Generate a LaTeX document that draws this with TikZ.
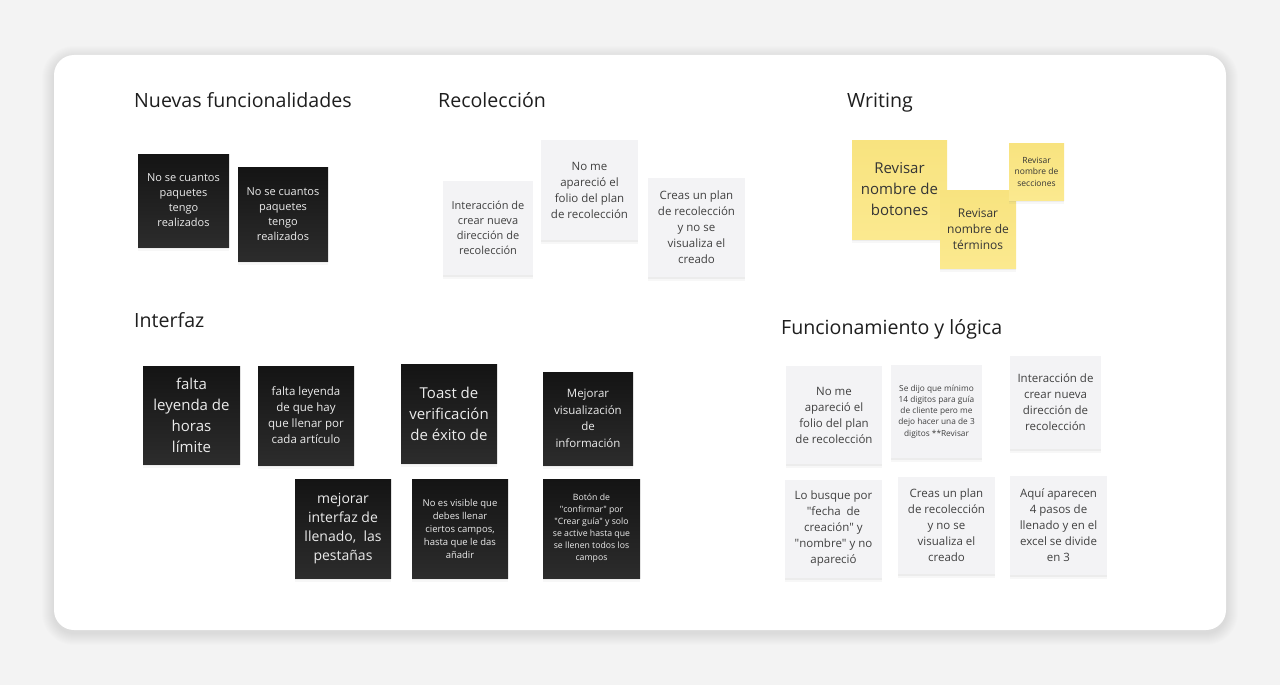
\documentclass[tikz,border=0pt]{standalone}
\usepackage{fontspec}
\setmainfont{Open Sans}
\usetikzlibrary{shadows}

\definecolor{paper}{HTML}{F3F3F3}
\definecolor{ink}{HTML}{1E1E1E}
\definecolor{darktop}{HTML}{141414}
\definecolor{darkbot}{HTML}{2C2C2C}
\definecolor{lightnote}{HTML}{F3F3F5}
\definecolor{yellownote}{HTML}{F8E37F}
\definecolor{yellowbot}{HTML}{FBE98F}

\begin{document}
\begin{tikzpicture}[x=1pt,y=-1pt,
  wh/.style 2 args={minimum width=#1,minimum height=#2},
  note/.style={inner sep=0pt,align=center,
    drop shadow={shadow xshift=0pt,shadow yshift=-4pt,opacity=.06},
    drop shadow={shadow xshift=0pt,shadow yshift=-2pt,opacity=.09}},
  dark note/.style={note,top color=darktop,bottom color=darkbot,text=white!92!black,
    font=\fontsize{11}{15}\selectfont},
  light note/.style={note,fill=lightnote,text=ink!85,font=\fontsize{11.5}{16}\selectfont},
  yellow note/.style={note,top color=yellownote,bottom color=yellowbot,text=ink!90,
    font=\fontsize{12}{16}\selectfont},
  big text/.style={font=\fontsize{15}{21}\selectfont},
  small text/.style={font=\fontsize{9.5}{13}\selectfont},
  tiny text/.style={font=\fontsize{8.5}{11.5}\selectfont},
  group title/.style={anchor=base west,inner sep=0pt,text=ink,font=\fontsize{19.6}{24}\selectfont}]

  \useasboundingbox (0,0) rectangle (1280,685);
  \fill[paper] (0,0) rectangle (1280,685);
  % soft shadow of the board
  \foreach \s in {1,...,12}
    \fill[black,opacity=.007,rounded corners=20+\s] (54-\s,58-\s) rectangle (1226+\s,633+\s);
  \fill[white,rounded corners=20] (54,55) rectangle (1226,630);

  % group titles
  \node[group title] (tnuevas) at (134,107) {Nuevas funcionalidades};
  \node[group title] (treco) at (438,107) {Recolección};
  \node[group title] (twriting) at (847,107) {Writing};
  \node[group title] (tinterfaz) at (134,327) {Interfaz};
  \node[group title] (tfunc) at (781,334) {Funcionamiento y lógica};

  % Nuevas funcionalidades
  \node[dark note, wh={91}{93}] (n1) at (183.5,200.5) {No se cuantos\\paquetes\\tengo\\realizados};
  \node[dark note, wh={90}{94}] (n2) at (283,214) {No se cuantos\\paquetes\\tengo\\realizados};

  % Recoleccion
  \node[light note, wh={90}{94}, font=\fontsize{11}{15}\selectfont] (r1) at (488,228) {Interacción de\\crear nueva\\dirección de\\recolección};
  \node[light note, wh={97}{100}] (r2) at (589.5,190) {No me\\apareció el\\folio del plan\\de recolección};
  \node[light note, wh={97}{99}] (r3) at (696.5,227.5) {Creas un plan\\de recolección\\y no se\\visualiza el\\creado};

  % Writing
  \node[yellow note, wh={95}{99}, big text] (w1) at (899.5,189.5) {Revisar\\nombre de\\botones};
  \node[yellow note, wh={76}{78}] (w2) at (978,229) {Revisar\\nombre de\\términos};
  \node[yellow note, wh={55}{57}, tiny text] (w3) at (1036.5,171.5) {Revisar\\nombre de\\secciones};

  % Interfaz
  \node[dark note, wh={97}{98}, big text] (i1) at (191.5,415) {falta\\leyenda de\\horas\\límite};
  \node[dark note, wh={96}{99}, font=\fontsize{11.5}{16}\selectfont] (i2) at (306,415.5) {falta leyenda\\de que hay\\que llenar por\\cada artículo};
  \node[dark note, wh={96}{99}, big text] (i3) at (449,413.5) {Toast de\\verificación\\de éxito de};
  \node[dark note, wh={90}{93}, font=\fontsize{11.5}{16.5}\selectfont] (i4) at (588,418.5) {Mejorar\\visualización\\de\\información};
  \node[dark note, wh={96}{99}, font=\fontsize{14}{19}\selectfont] (i5) at (343,528.5) {mejorar\\interfaz de\\llenado,\ \ las\\pestañas};
  \node[dark note, wh={96}{99}, small text] (i6) at (460,528.5) {No es visible que\\debes llenar\\ciertos campos,\\hasta que le das\\añadir};
  \node[dark note, wh={97}{99}, font=\fontsize{8.7}{12}\selectfont] (i7) at (591.5,528.5) {Botón de\\\textquotedbl confirmar\textquotedbl{} por\\\textquotedbl Crear guía\textquotedbl{} y solo\\se active hasta que\\se llenen todos los\\campos};

  % Funcionamiento y logica
  \node[light note, wh={96}{98}] (f1) at (834,415) {No me\\apareció el\\folio del plan\\de recolección};
  \node[light note, wh={91}{93}, font=\fontsize{8.3}{11.3}\selectfont] (f2) at (936.5,411.5) {Se dijo que mínimo\\14 digitos para guía\\de cliente pero me\\dejo hacer una de 3\\digitos **Revisar};
  \node[light note, wh={91}{93}] (f3) at (1055.5,402.5) {Interacción de\\crear nueva\\dirección de\\recolección};
  \node[light note, wh={97}{98}] (f4) at (833.5,529) {Lo busque por\\\textquotedbl fecha\ \ de\\creación\textquotedbl{} y\\\textquotedbl nombre\textquotedbl{} y no\\apareció};
  \node[light note, wh={97}{97}] (f5) at (946.5,525.5) {Creas un plan\\de recolección\\y no se\\visualiza el\\creado};
  \node[light note, wh={97}{99}] (f6) at (1058.5,525.5) {Aquí aparecen\\4 pasos de\\llenado y en el\\excel se divide\\en 3};
\end{tikzpicture}
\end{document}
